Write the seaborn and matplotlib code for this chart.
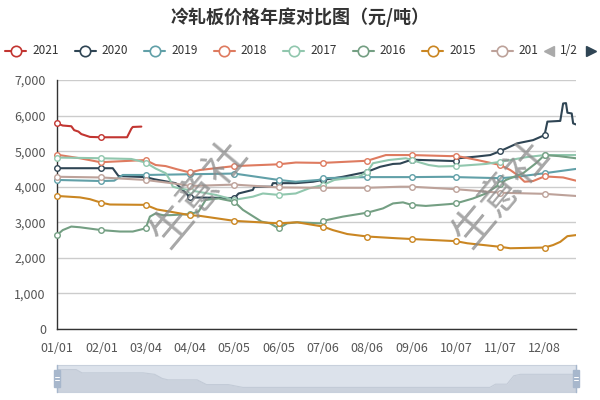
import numpy as np
import pandas as pd
import matplotlib
matplotlib.use("Agg")
import matplotlib.pyplot as plt
from matplotlib.lines import Line2D
from matplotlib.patches import Rectangle
from matplotlib.ticker import FuncFormatter
import seaborn as sns

# ---------------- data ----------------
title = "冷轧板价格年度对比图（元/吨）"
years = ["2021", "2020", "2019", "2018", "2017", "2016", "2015", "2014"]
colors = ["#c23531", "#2f4554", "#61a0a8", "#de7b60", "#91c7ae", "#749f83", "#ca8622", "#bda29a"]

tick_days = [0, 31, 62, 93, 124, 155, 186, 217, 248, 279, 310, 341]
tick_labels = ["01/01", "02/01", "03/04", "04/04", "05/05", "06/05", "07/06", "08/06",
               "09/06", "10/07", "11/07", "12/08"]
x_max = 363

days_2021 = [0, 4, 10, 12, 15, 17, 23, 31, 49, 52, 53, 59]
vals_2021 = [5780, 5720, 5700, 5590, 5550, 5480, 5400, 5390, 5390, 5630, 5680, 5690]

days_2020 = [0, 31, 39, 43, 62, 68, 83, 88, 93, 124, 127, 137, 138, 150, 151, 155, 167, 179, 186,
             200, 217, 226, 235, 240, 248, 279, 281, 294, 303, 310, 322, 333, 341, 343, 352,
             354, 356, 357, 360, 361, 363]
vals_2020 = [4520, 4520, 4520, 4300, 4270, 4210, 4100, 3910, 3700, 3680, 3810, 3910, 4000, 4000,
             4100, 4100, 4100, 4140, 4190, 4280, 4420, 4560, 4640, 4650, 4760, 4720, 4800, 4850,
             4890, 5000, 5220, 5310, 5450, 5830, 5850, 6340, 6350, 6080, 6060, 5780, 5750]

days_2019 = [0, 31, 40, 46, 62, 93, 124, 155, 167, 183, 186, 217, 248, 275, 279, 310, 320, 341, 363]
vals_2019 = [4190, 4160, 4170, 4330, 4330, 4350, 4370, 4190, 4140, 4190, 4240, 4270, 4270, 4280,
             4270, 4240, 4270, 4380, 4500]

days_2018 = [0, 16, 29, 31, 62, 69, 76, 84, 93, 100, 124, 155, 167, 184, 186, 217, 230, 248, 275,
             279, 294, 310, 317, 322, 327, 333, 341, 354, 363]
vals_2018 = [4900, 4800, 4700, 4690, 4750, 4610, 4580, 4490, 4400, 4470, 4580, 4630, 4680, 4670,
             4670, 4730, 4890, 4890, 4860, 4870, 4750, 4610, 4470, 4330, 4140, 4160, 4290, 4260, 4170]

days_2017 = [0, 31, 52, 60, 62, 69, 76, 79, 81, 86, 93, 111, 124, 137, 144, 155, 167, 176, 186,
             194, 211, 217, 221, 232, 244, 248, 260, 267, 279, 300, 310, 328, 341, 363]
vals_2017 = [4820, 4800, 4780, 4700, 4680, 4510, 4380, 4190, 4000, 3950, 3900, 3770, 3630, 3720,
             3810, 3770, 3810, 3950, 4050, 4190, 4280, 4420, 4660, 4750, 4800, 4750, 4610, 4570,
             4580, 4640, 4700, 4830, 4890, 4890]

days_2016 = [0, 4, 10, 16, 31, 44, 53, 62, 65, 69, 74, 79, 93, 99, 104, 113, 124, 130, 143, 149,
             155, 161, 168, 184, 186, 200, 217, 228, 235, 242, 248, 258, 274, 279, 291, 300, 310,
             314, 326, 335, 341, 351, 363]
vals_2016 = [2640, 2780, 2880, 2860, 2780, 2740, 2740, 2830, 3160, 3250, 3200, 3200, 3230, 3300,
             3630, 3670, 3580, 3350, 3020, 2970, 2830, 2970, 3000, 2970, 3040, 3160, 3270, 3390,
             3530, 3560, 3490, 3460, 3510, 3530, 3670, 3810, 4080, 4190, 4380, 4660, 4890, 4860, 4800]

days_2015 = [0, 16, 23, 31, 37, 62, 70, 79, 93, 100, 124, 155, 168, 186, 193, 203, 217, 238, 248,
             279, 287, 310, 317, 341, 347, 352, 357, 363]
vals_2015 = [3740, 3700, 3650, 3550, 3500, 3490, 3360, 3300, 3200, 3180, 3040, 2970, 3000, 2880,
             2780, 2670, 2600, 2550, 2530, 2470, 2410, 2310, 2270, 2290, 2360, 2450, 2610, 2640]

days_2014 = [0, 31, 62, 72, 84, 93, 124, 155, 186, 217, 240, 248, 279, 310, 341, 363]
vals_2014 = [4280, 4260, 4190, 4140, 4080, 4020, 4060, 3980, 3970, 3970, 4000, 4000, 3930, 3830,
             3800, 3740]

series_days = [days_2021, days_2020, days_2019, days_2018, days_2017, days_2016, days_2015, days_2014]
series_vals = [vals_2021, vals_2020, vals_2019, vals_2018, vals_2017, vals_2016, vals_2015, vals_2014]

# data-zoom slider shadow outline (fraction of width, fraction of height)
shadow_pos = [0, 0.037, 0.048, 0.166, 0.188, 0.203, 0.214, 0.27, 0.288, 0.33, 0.358, 0.834,
              0.845, 0.867, 0.88, 0.893, 1.0]
shadow_lvl = [0.83, 0.83, 0.71, 0.71, 0.655, 0.5, 0.45, 0.45, 0.275, 0.275, 0.17, 0.17, 0.29,
              0.29, 0.6, 0.655, 0.655]

watermark = "生意社"

# ---------------- style ----------------
sns.set_style("white")
plt.rcParams["font.family"] = ["Noto Sans CJK SC", "DejaVu Sans"]
plt.rcParams["axes.unicode_minus"] = False

W, H = 600, 400
fig = plt.figure(figsize=(6, 4), dpi=100)
ax = fig.add_axes([57 / W, 71 / H, 519 / W, 249 / H])

rows = []
for yr, d, v in zip(years, series_days, series_vals):
    for di, vi in zip(d, v):
        rows.append((yr, di, vi))
df = pd.DataFrame(rows, columns=["year", "day", "price"])

for i, (yr, col) in enumerate(zip(years, colors)):
    sub = df[df.year == yr]
    sns.lineplot(data=sub, x="day", y="price", color=col, linewidth=1.5, ax=ax,
                 estimator=None, sort=True, legend=False, zorder=2 + i * 0.1)
    mk = sub[sub.day.isin(tick_days)]
    ax.plot(mk.day, mk.price, "o", ms=4, mfc="white", mec=col, mew=1.0,
            zorder=3 + i * 0.1, clip_on=False)

ax.set_xlim(0, x_max)
ax.set_ylim(0, 7000)
ax.set_yticks(np.arange(0, 7001, 1000))
ax.yaxis.set_major_formatter(FuncFormatter(lambda v, p: f"{int(v):,}"))
ax.set_xticks(tick_days)
ax.set_xticklabels(tick_labels)
ax.set_xlabel("")
ax.set_ylabel("")
ax.grid(axis="y", color="#cccccc", linewidth=1)
ax.grid(axis="x", visible=False)
for s in ["top", "right"]:
    ax.spines[s].set_visible(False)
for s in ["left", "bottom"]:
    ax.spines[s].set_color("#333333")
    ax.spines[s].set_linewidth(1)
ax.tick_params(axis="both", direction="out", length=5, width=1, color="#333333",
               labelsize=9, labelcolor="#555555", pad=3)
ax.tick_params(axis="x", pad=4)

# watermarks
for cx in (200, 502):
    fig.text(cx / W, 1 - 194 / H, watermark, rotation=50, fontsize=30, color="#8a8a8a",
             alpha=0.75, ha="center", va="center", zorder=10)

# title
fig.text(0.5, 1 - 17 / H, title, ha="center", va="center", fontsize=13,
         fontweight="bold", color="#333333")

# legend (page 1 of 2)
ly = 1 - 51 / H
for k in range(8):
    x0 = 5 + 69.5 * k
    col = colors[k]
    fig.add_artist(Line2D([x0 / W, (x0 + 21) / W], [ly, ly], transform=fig.transFigure,
                          color=col, lw=1.5))
    fig.add_artist(Line2D([(x0 + 10.5) / W], [ly], transform=fig.transFigure, marker="o",
                          ms=7.5, mfc="white", mec=col, mew=1.2, lw=0))
    lab = years[k] if k < 7 else years[k][:3]
    fig.text((x0 + 27) / W, ly, lab, ha="left", va="center", fontsize=8.5, color="#333333")
fig.add_artist(Line2D([549 / W], [ly], transform=fig.transFigure, marker="<", ms=7,
                      color="#aaaaaa", lw=0))
fig.text(569 / W, ly, "1/2", ha="center", va="center", fontsize=8.5, color="#333333")
fig.add_artist(Line2D([591 / W], [ly], transform=fig.transFigure, marker=">", ms=7,
                      color="#2f4554", lw=0))

# data-zoom slider
sax = fig.add_axes([57 / W, 8 / H, 519 / W, 27 / H])
sax.set_facecolor("#dce2eb")
sax.fill_between(shadow_pos, 0, shadow_lvl, color="#cbd2dd", lw=0)
sax.plot(shadow_pos, shadow_lvl, color="#c3cbd7", lw=0.8)
sax.set_xlim(0, 1)
sax.set_ylim(0, 1)
sax.set_xticks([])
sax.set_yticks([])
for s in sax.spines.values():
    s.set_color("#c8d0dc")
    s.set_linewidth(0.8)
for hx in (0, 1):
    sax.add_patch(Rectangle((hx - 0.006, 0.2), 0.012, 0.6, transform=sax.transAxes,
                            color="#a7b7cc", clip_on=False, zorder=5))
    for yy in (0.45, 0.55):
        sax.plot([hx - 0.004, hx + 0.004], [yy, yy], color="white", lw=0.7,
                 clip_on=False, zorder=6)
    sax.plot([hx, hx], [0, 1], color="#a7b7cc", lw=1, clip_on=False, zorder=4)

fig.savefig("out.png", dpi=100)
